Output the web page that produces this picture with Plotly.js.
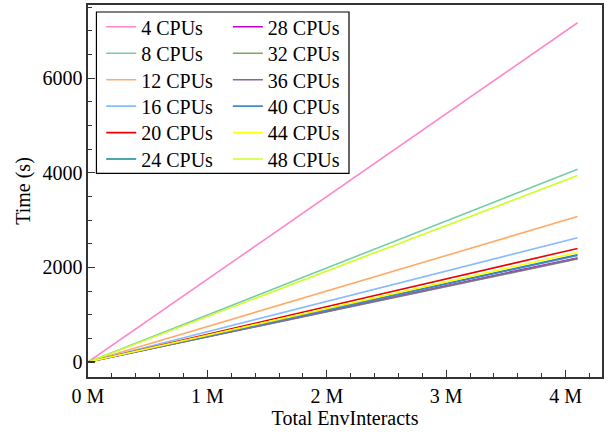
<!DOCTYPE html>
<html>
<head>
<meta charset="utf-8">
<script src="https://cdn.plot.ly/plotly-3.0.1.min.js"></script>
<style>html,body{margin:0;padding:0;background:#fff;}#chart{width:613px;height:434px;}</style>
</head>
<body>
<div id="chart"></div>
<script>
// Series names (CPU counts)
const cpuLabels = ["4 CPUs","8 CPUs","12 CPUs","16 CPUs","20 CPUs","24 CPUs","28 CPUs","32 CPUs","36 CPUs","40 CPUs","44 CPUs","48 CPUs"];
// x values: total env interactions (start, end)
const interacts = [0, 4100000];
// time (s) at start and end for each series
const time4  = [0, 7170];
const time8  = [0, 4075];
const time12 = [0, 3075];
const time16 = [0, 2625];
const time20 = [0, 2400];
const time24 = [0, 2265];
const time28 = [0, 2200];
const time32 = [0, 2175];
const time36 = [0, 2190];
const time40 = [0, 2250];
const time44 = [0, 2315];
const time48 = [0, 3940];
const seriesTimes = [time4,time8,time12,time16,time20,time24,time28,time32,time36,time40,time44,time48];
const colors = ["#ff88cc","#77ccaa","#ffaa66","#88bbff","#ee0000","#118899","#bb00cc","#77aa66","#886699","#4488cc","#ffff00","#ccff22"];
// x tick labels
const xTickVals = [0, 1000000, 2000000, 3000000, 4000000];
const xTickText = ["0 M","1 M","2 M","3 M","4 M"];

const legendKey = i => (i === 0 ? 'legend' : 'legend' + (i + 1));

const traces = cpuLabels.map((name, i) => ({
  x: interacts, y: seriesTimes[i], name: name, type: 'scatter', mode: 'lines',
  line: {color: colors[i], width: 1.6},
  legend: legendKey(i)
}));

const font = {family: 'Liberation Serif', size: 20, color: '#000'};
const layout = {
  width: 613, height: 434,
  margin: {l: 88, r: 11, t: 5, b: 57},
  paper_bgcolor: '#fff', plot_bgcolor: '#fff',
  font: font,
  showlegend: true,
  shapes: [{
    type: 'rect', xref: 'paper', yref: 'paper',
    x0: 0.0164, x1: 0.5078, y0: 0.5476, y1: 0.9812,
    line: {color: '#000', width: 1.2}, fillcolor: '#fff', layer: 'above'
  }],
  xaxis: {
    range: [0, 4305000], tickvals: xTickVals, ticktext: xTickText,
    ticks: 'inside', ticklen: 7, tickwidth: 1.2, tickcolor: '#333',
    minor: {dtick: 200000, tick0: 0, ticks: 'inside', ticklen: 4, tickwidth: 1, tickcolor: '#333', showgrid: false},
    showline: true, linecolor: '#333', linewidth: 1.6, mirror: true,
    showgrid: false, zeroline: false,
    title: {text: 'Total EnvInteracts', font: font, standoff: 4},
    tickfont: font
  },
  yaxis: {
    range: [-317, 7545], tick0: 0, dtick: 2000, tickformat: 'd',
    ticks: 'inside', ticklen: 7, tickwidth: 1.2, tickcolor: '#333',
    minor: {dtick: 500, tick0: 0, ticks: 'inside', ticklen: 4, tickwidth: 1, tickcolor: '#333', showgrid: false},
    showline: true, linecolor: '#333', linewidth: 1.6, mirror: true,
    showgrid: false, zeroline: false,
    title: {text: 'Time (s)', font: font, standoff: 6},
    tickfont: font
  }
};

// one legend per entry: two columns of six, placed to match the boxed legend
cpuLabels.forEach((name, i) => {
  const col = Math.floor(i / 6), row = i % 6;
  layout[legendKey(i)] = {
    x: col === 0 ? 0.0257 : 0.2721,
    y: (369.7 - 26.45 * row) / 372,
    xanchor: 'left', yanchor: 'top', orientation: 'v',
    borderwidth: 0, bgcolor: 'rgba(0,0,0,0)', font: font, itemwidth: 30
  };
});

Plotly.newPlot('chart', traces, layout, {displayModeBar: false, staticPlot: true});
</script>
</body>
</html>
